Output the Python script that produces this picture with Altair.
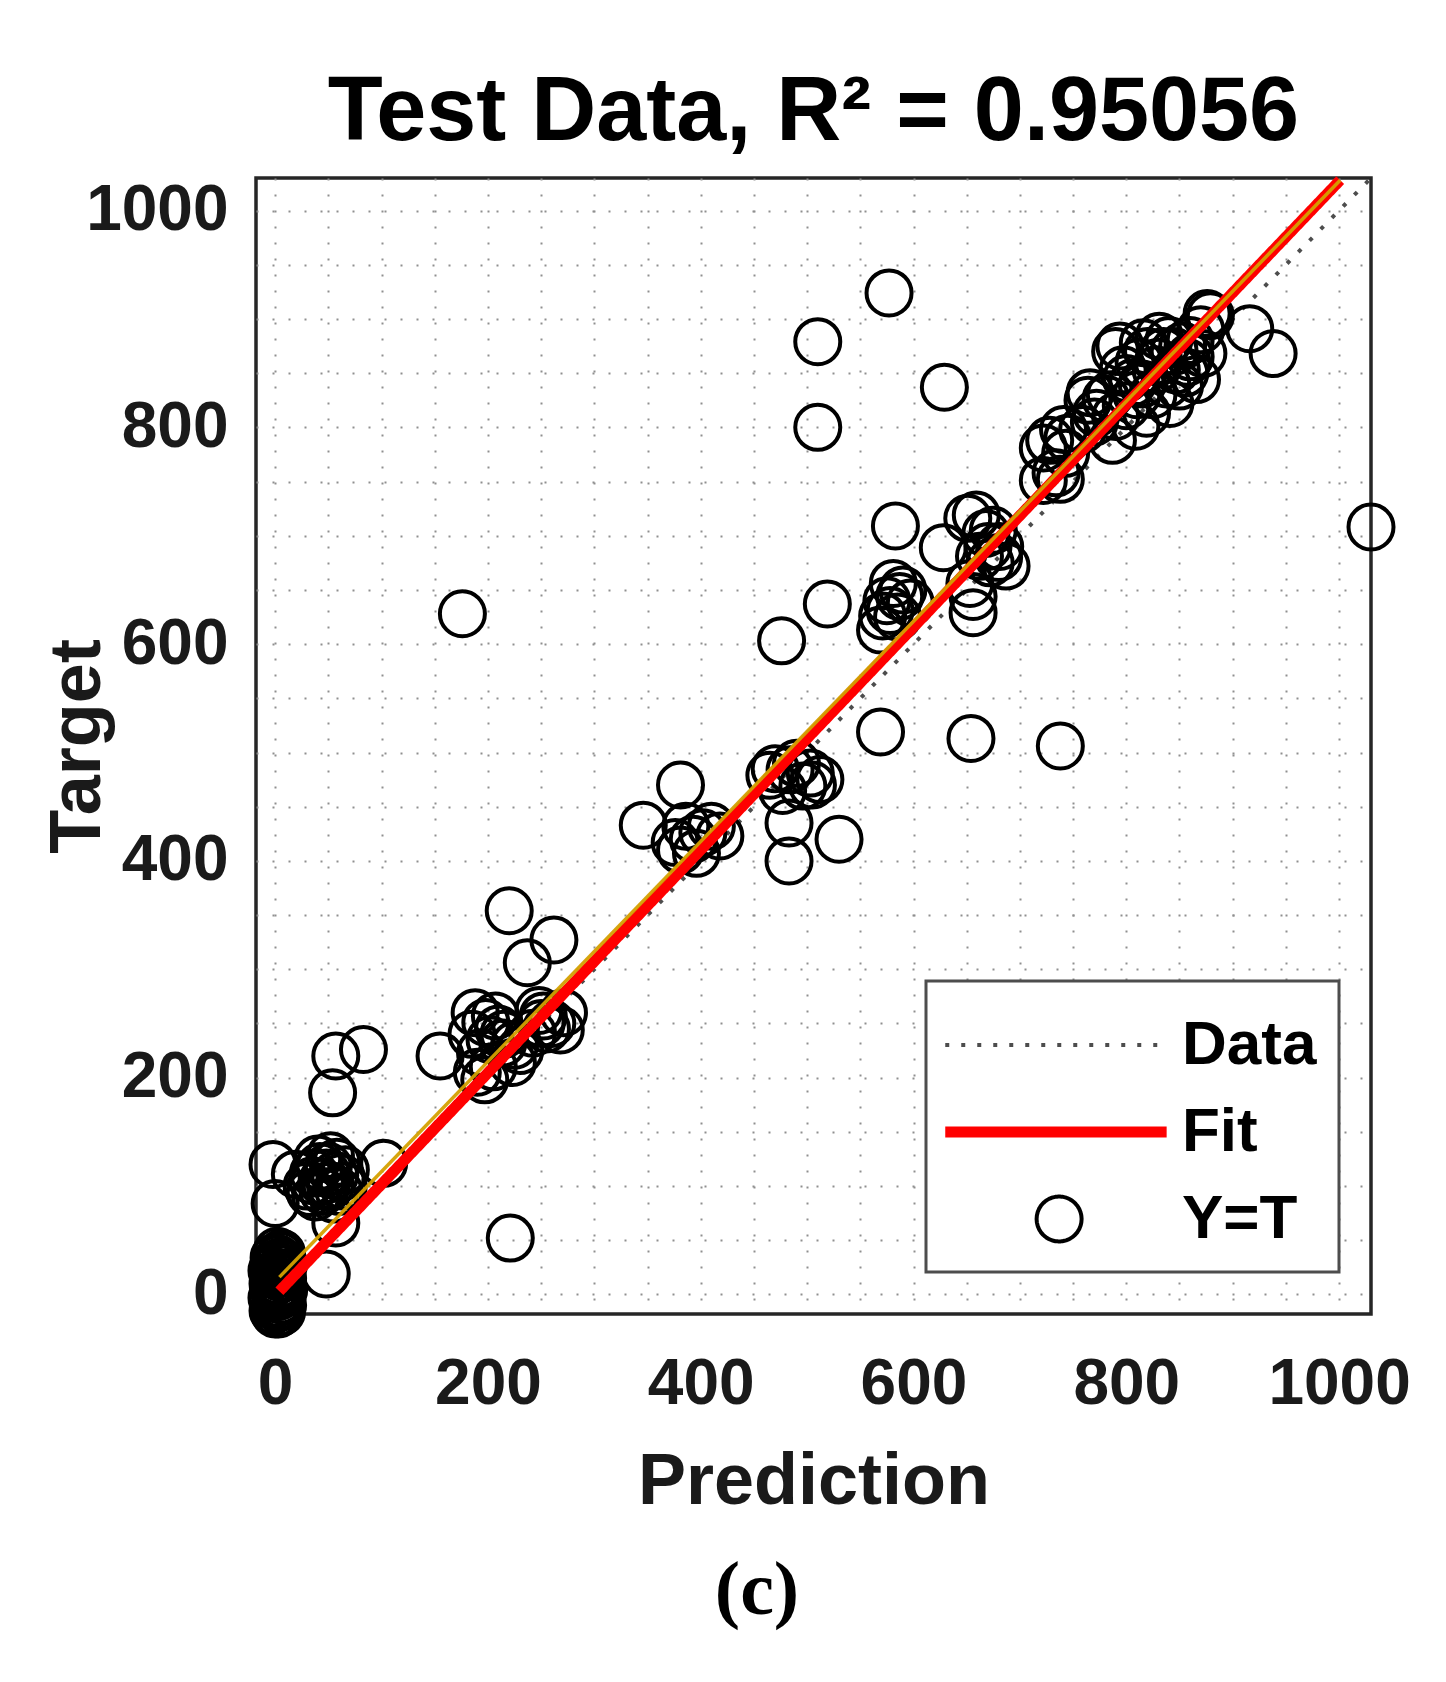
import math
import altair as alt
import pandas as pd

# ---------------- data ----------------
series = ["Data", "Fit", "Y=T"]
series_colors = ["#4d4d4d", "#ff0000", "#000000"]

pred = [
    # dense blob at the origin
    3, 4, 2, 5, 3, 0, 1, 2, 3, 4, 5, 2, 4, 3, 5, 2, 4, 3, 5, 2, 4, 3, 5, 1, 6,
    -2, 7, -3, 8, -2, 7, -3, 8, -1, 6, 0, 6, 1, 0, 6, 2, 7, -1,
    # low cluster 0-110
    -2, 0, 19, 33, 35, 42, 48, 52, 58, 62, 45, 55, 38, 66, 30, 52, 57, 48, 102, 40, 60,
    44, 50, 36, 56, 48, 64,
    # outliers near 200
    57, 83, 54, 221, 176,
    # cluster 150-275
    155, 188, 207, 193, 197, 223, 252, 268, 271, 214, 202, 242, 198, 205, 230, 185,
    260, 248, 220, 262, 237, 210, 190, 215, 225, 250, 255,
    # cluster around 400
    346, 381, 376, 386, 402, 418, 381, 396, 393, 410,
    # cluster around 480
    465, 484, 503, 512, 477, 496, 490, 470, 505, 483, 483, 530, 476,
    # scattered
    577, 510, 510, 629, 519, 569, 654, 738,
    # cluster around 620
    583, 628, 659, 668, 681, 662, 687, 672, 656, 656, 581, 587, 571, 569, 597, 578, 651, 653,
    575, 590, 585, 670, 675, 680,
    # upper cluster 720-940
    728, 722, 743, 766, 759, 787, 797, 794, 816, 831, 828, 819, 841, 847, 866, 872,
    853, 806, 781, 809, 772, 741, 734, 764, 738, 722, 879, 916, 938, 876, 857, 838,
    812, 790, 850, 825, 860, 800, 835, 870, 790,
    745, 770, 785, 800, 815, 830, 845, 860, 820, 840, 855, 810,
    # far right
    1030,
]
target = [
    -18, -12, -8, -5, -2, 0, 0, 0, 0, 0, 1, 3, 5, 8, 10, 13, 16, 20, 24, 27, 30, 33, 36, 5, 2,
    -15, -10, -3, 4, 10, 15, 22, 28, 34, 38, -18, -16, -12, 18, 20, 40, 8, 26,
    120, 84, 111, 94, 105, 118, 112, 100, 122, 108, 95, 88, 90, 115, 100, 128, 66, 19, 121, 125, 95,
    104, 118, 112, 110, 100, 100,
    220, 226, 186, 52, 628,
    220, 260, 257, 223, 198, 214, 257, 244, 260, 232, 235, 241, 251, 210, 225, 240,
    250, 262, 354, 327, 306, 245, 205, 240, 230, 250, 245,
    433, 470, 417, 432, 426, 423, 410, 407, 420, 432,
    479, 484, 481, 475, 465, 469, 490, 485, 470, 435, 400, 420, 603,
    924, 879, 800, 837, 637, 519, 513, 506,
    709, 689, 719, 702, 690, 681, 672, 675, 629, 644, 656, 644, 626, 613, 638, 631, 716, 656,
    640, 650, 625, 690, 705, 680,
    788, 751, 776, 832, 798, 788, 853, 875, 878, 884, 853, 813, 822, 853, 844, 868,
    875, 841, 826, 801, 813, 798, 758, 825, 752, 781, 903, 891, 868, 905, 860, 840,
    860, 810, 838, 830, 880, 820, 870, 890, 870,
    790, 805, 830, 845, 840, 860, 870, 865, 870, 880, 850, 830,
    708,
]

diag_x = [-18, 1030]          # Y = T reference line
diag_y = [-18, 1030]
fit_x = [4, 1001]             # red regression line
fit_y = [3, 1028]
fit2_x = [4, 1001]            # thin yellow line
fit2_y = [16, 1028]

axis_min, axis_max = -18, 1030
grid_values = list(range(0, 1001, 50))
title_text = "Test Data, R\u00b2 = 0.95056"
x_title = "Prediction"
y_title = "Target"
caption = "(c)"

# ---------------- tables ----------------
pts_df = pd.DataFrame({"pred": pred, "target": target, "series": "Y=T"})
diag_df = pd.DataFrame({"pred": diag_x, "target": diag_y, "series": "Data"})
fit_df = pd.DataFrame({"pred": fit_x, "target": fit_y, "series": "Fit"})
fit2_df = pd.DataFrame({"pred": fit2_x, "target": fit2_y})
key_df = pd.DataFrame({"pred": [None] * 3, "target": [None] * 3, "series": series})
cap_df = pd.DataFrame({"t": [caption]})

# ---------------- legend symbols ----------------
line_start, line_end = -1.5, 8.34
circ_c = 3.56
circle_path = "M" + "L".join(
    f"{circ_c + math.cos(2 * math.pi * i / 40):.4f},{math.sin(2 * math.pi * i / 40):.4f}"
    for i in range(40)
) + "Z"
line_path = f"M{line_start},0H{line_end}"

FONT = "Liberation Sans"

leg = alt.Legend(
    orient="none", legendX=670, legendY=803,
    symbolSize=2025, labelFont=FONT, labelFontSize=62, labelFontWeight="bold",
    labelColor="#000000", labelOffset=172, labelLimit=400, rowPadding=25, padding=22,
    titleFontSize=1, titlePadding=10,
    strokeColor="#4d4d4d", fillColor="white", symbolFillColor="transparent",
)

sc_color = alt.Scale(domain=series, range=series_colors)
sc_dash = alt.Scale(domain=series, range=[[4, 12], [1, 0], [1, 0]])
sc_width = alt.Scale(type="ordinal", domain=series, range=[4, 11, 4])
sc_shape = alt.Scale(domain=series, range=[line_path, line_path, circle_path])

x_scale = alt.Scale(domain=[axis_min, axis_max], nice=False, zero=False)
y_scale = alt.Scale(domain=[axis_min, axis_max], nice=False, zero=False)

common_axis = dict(
    values=grid_values, format="d",
    labelExpr="datum.value % 200 === 0 ? datum.label : ''",
    ticks=False, domain=False, grid=True, gridDash=[2, 14], gridColor="#8f8f8f", gridWidth=2,
    labelFont=FONT, labelFontSize=64, labelFontWeight="bold", labelColor="#1a1a1a",
    labelOverlap=False, labelFlush=False,
    titleFont=FONT, titleFontSize=72, titleFontWeight="bold", titleColor="#1a1a1a",
    titleBaseline="alphabetic",
)
x_axis = alt.Axis(title=x_title, labelPadding=38, titleY=189, **common_axis)
y_axis = alt.Axis(title=y_title, labelPadding=28, titleX=-157, titleY=568, titleAngle=270,
                  titleAlign="center", **common_axis)

X = alt.X("pred:Q", scale=x_scale, axis=x_axis)
Y = alt.Y("target:Q", scale=y_scale, axis=y_axis)
Xn = alt.X("pred:Q", scale=x_scale)
Yn = alt.Y("target:Q", scale=y_scale)

col = alt.Color("series:N", scale=sc_color, legend=leg, title=" ")
dash = alt.StrokeDash("series:N", scale=sc_dash, legend=leg, title=" ")
sw = alt.StrokeWidth("series:N", scale=sc_width, legend=leg, title=" ")
shp = alt.Shape("series:N", scale=sc_shape, legend=leg, title=" ")

diag = alt.Chart(diag_df).mark_line(opacity=1).encode(x=X, y=Y, color=col, strokeDash=dash, strokeWidth=sw)
points = alt.Chart(pts_df).mark_point(shape="circle", filled=False, size=2025, opacity=1).encode(
    x=Xn, y=Yn, color=col, strokeWidth=sw)
fit = alt.Chart(fit_df).mark_line(opacity=1).encode(x=Xn, y=Yn, color=col, strokeDash=dash, strokeWidth=sw)
fit2 = alt.Chart(fit2_df).mark_line(color="#d4a000", strokeWidth=3.5, opacity=0.95).encode(x=Xn, y=Yn)
key = alt.Chart(key_df).mark_point(filled=False, opacity=1).encode(
    x=Xn, y=Yn, color=col, shape=shp, strokeWidth=sw, strokeDash=dash)
cap = alt.Chart(cap_df).mark_text(font="Liberation Serif", fontSize=76, fontWeight="bold",
                                  baseline="alphabetic", align="center", color="#000000").encode(
    text="t:N", x=alt.value(501), y=alt.value(1436))

chart = alt.layer(diag, points, fit, fit2, key, cap).properties(
    width=1115, height=1136,
    title=alt.TitleParams(text=title_text, font=FONT, fontSize=90, fontWeight="bold", color="#000000",
                          anchor="middle", frame="group", baseline="alphabetic", offset=-72),
    padding={"left": 33, "top": 60, "right": 10, "bottom": 10},
).configure_view(stroke="#262626", strokeWidth=3.5).configure_legend(strokeWidth=3)

chart.save("out.html", embed_options={"renderer": "svg", "actions": False})
